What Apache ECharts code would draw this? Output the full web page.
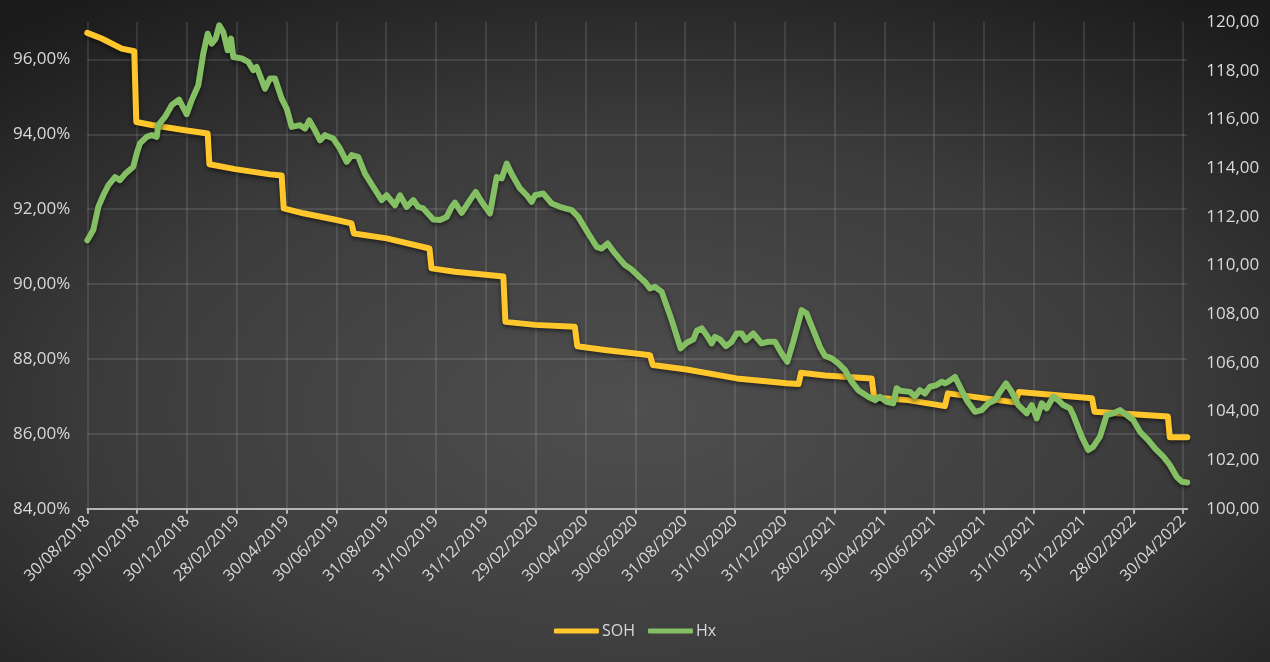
<!DOCTYPE html>
<html><head><meta charset="utf-8">
<script src="https://cdn.jsdelivr.net/npm/echarts@6/dist/echarts.min.js"></script>
<style>html,body{margin:0;padding:0;background:#2a2a2a;overflow:hidden}#c{width:1270px;height:662px}</style>
</head><body><div id="c"></div>
<script>
// x tick labels (every 61 days from 30/08/2018)
const tickLabels = ['30/08/2018','30/10/2018','30/12/2018','28/02/2019','30/04/2019','30/06/2019','31/08/2019','31/10/2019','31/12/2019','29/02/2020','30/04/2020','30/06/2020','31/08/2020','31/10/2020','31/12/2020','28/02/2021','30/04/2021','30/06/2021','31/08/2021','31/10/2021','31/12/2021','28/02/2022','30/04/2022'];
const tickStepDays = 61;
const lastDay = 1347;

// SOH (left axis, %) — x = days since 30/08/2018
const sohDays = [0,17.6,42.1,57.5,60,78.9,119.6,147.4,149.5,180.9,223.7,238,240.5,264.5,305.4,323.5,326.5,366.6,419,421.5,450.2,509.5,512,548.2,597,600,633.9,676.8,689,692.5,734,795.2,856.4,871,874,903.3,960.5,963.5,1005.3,1050.2,1053.8,1136,1140.9,1230.3,1233.4,1323.2,1325.6,1347];
const sohValues = [96.71,96.56,96.29,96.22,94.33,94.25,94.11,94.02,93.20,93.07,92.93,92.90,92.02,91.89,91.71,91.62,91.35,91.22,90.95,90.42,90.33,90.20,88.99,88.91,88.86,88.34,88.24,88.13,88.10,87.84,87.72,87.48,87.35,87.33,87.63,87.56,87.48,86.97,86.90,86.74,87.08,86.84,87.12,86.95,86.59,86.46,85.91,85.91];

// Hx (right axis)
const hxDays = [0,7.3,13.5,19.6,25.7,33.9,40,46.2,56.3,60.5,64.5,72.7,78.9,85,86.9,95.1,103.3,112.3,121.7,127.8,135.9,142,147.4,152.3,157.2,161.6,166.5,171.9,176,178.8,189.1,197.1,203.3,207.4,217.6,223.7,229.8,238,244.2,250.3,260.5,266.6,271.8,278.8,284.9,291.1,301.2,309.4,317.6,323.8,331.8,340,350.2,360.5,366.6,376.8,382.9,391.1,399.2,405.3,411.4,423.7,431.9,440.1,446.2,450.2,458.5,468.6,475.6,482.9,493.1,501.3,507.4,513.6,519.7,529.8,538,544.2,548.2,558.4,568.7,580.9,593.2,601.2,613.5,623.8,629.9,637.2,646.2,658.4,666.6,676.8,682.9,689,695.2,703.4,715.6,726.6,734,742.1,746.3,752.3,758.5,764.6,768.6,774.7,782.1,789.1,795.2,801.3,806.6,815.5,825.8,833.9,842.1,850.3,857.2,864.5,874.8,880.9,889,897.2,903.3,911.5,919.6,927.8,936,944.1,956.3,964.5,970.6,978.8,986.9,991.1,995.2,1007.4,1013.5,1019.6,1025.8,1031.9,1040.1,1046.2,1050.2,1054.3,1062.5,1068.6,1076.8,1087,1095.2,1103.3,1111.5,1117.6,1125,1132,1140.1,1150.4,1156.5,1162.6,1168.7,1174.8,1182.9,1189,1195.1,1203.3,1207.4,1217.7,1225.7,1231.9,1240.1,1248.3,1256.4,1264.6,1272.8,1280.9,1289.1,1299.2,1307.4,1317.6,1325.8,1334,1340.1,1347];
const hxValues = [111.03,111.45,112.40,112.88,113.29,113.63,113.50,113.75,114.05,114.60,115.01,115.28,115.35,115.28,115.76,116.10,116.58,116.81,116.21,116.78,117.40,118.70,119.52,119.11,119.32,119.86,119.59,118.84,119.32,118.56,118.50,118.36,118.02,118.15,117.26,117.68,117.68,116.85,116.44,115.69,115.76,115.62,115.96,115.55,115.14,115.35,115.21,114.80,114.25,114.53,114.46,113.77,113.22,112.68,112.88,112.47,112.88,112.40,112.68,112.40,112.34,111.88,111.86,111.99,112.40,112.58,112.16,112.68,113.02,112.61,112.13,113.63,113.57,114.18,113.75,113.16,112.88,112.61,112.88,112.95,112.54,112.38,112.27,111.99,111.31,110.76,110.69,110.90,110.49,110.01,109.83,109.50,109.32,109.05,109.12,108.91,107.75,106.59,106.82,106.96,107.31,107.41,107.13,106.79,107.06,106.96,106.68,106.86,107.20,107.20,106.93,107.20,106.79,106.86,106.86,106.38,106.04,106.86,108.16,108.02,107.34,106.65,106.28,106.18,105.97,105.70,105.22,104.87,104.60,104.46,104.60,104.39,104.33,104.95,104.85,104.80,104.62,104.87,104.73,105.01,105.08,105.22,105.15,105.22,105.42,105.01,104.46,103.98,104.05,104.33,104.46,104.80,105.15,104.80,104.26,103.92,104.26,103.71,104.33,104.12,104.60,104.46,104.26,104.12,103.85,102.96,102.41,102.55,102.96,103.85,103.92,104.05,103.85,103.64,103.16,102.82,102.48,102.14,101.79,101.31,101.11,101.08];

const zip = (xs, ys) => xs.map((x, i) => [x, ys[i]]);
const FONT = '"Open Sans", "Noto Sans", sans-serif';
const TXT = '#d9d9d9';
const comma = (v, d) => v.toFixed(d).replace('.', ',');

const chart = echarts.init(document.getElementById('c'), null, {renderer: 'canvas'});
chart.setOption({
  animation: false,
  backgroundColor: 'transparent',
  graphic: [{
    type: 'rect', z: -100, silent: true,
    shape: {x: 0, y: 0, width: 1270, height: 1270},
    scaleY: 662 / 1270,
    style: {fill: {type: 'radial', x: 0.5, y: 0.62, r: 0.75,
      colorStops: [{offset: 0, color: '#4f4f4f'}, {offset: 0.55, color: '#3c3c3c'}, {offset: 1, color: '#1c1c1c'}]}}
  }],
  grid: {left: 87.3, right: 82.7, top: 22, bottom: 153.3, containLabel: false},
  legend: {
    data: ['SOH', 'Hx'], bottom: 18, left: 'center', icon: 'roundRect',
    itemWidth: 45, itemHeight: 5, itemGap: 13,
    textStyle: {color: TXT, fontSize: 16, fontFamily: FONT, padding: [0, 0, 0, -2]}
  },
  xAxis: {
    type: 'value', min: 0, max: lastDay, interval: tickStepDays,
    axisLine: {show: true, lineStyle: {color: '#b5b5b5', width: 2}},
    axisTick: {show: true, length: 5, lineStyle: {color: '#b5b5b5', width: 2}},
    splitLine: {show: true, showMaxLine: false, lineStyle: {color: 'rgba(255,255,255,0.14)', width: 1.5}},
    axisLabel: {
      rotate: 45, margin: 10, color: TXT, fontSize: 16, fontFamily: FONT, showMaxLabel: false,
      formatter: v => { const i = Math.round(v / tickStepDays); return (Math.abs(v - i * tickStepDays) < 0.5 && tickLabels[i]) ? tickLabels[i] : ''; }
    }
  },
  yAxis: [{
    type: 'value', min: 84, max: 97, interval: 2, position: 'left',
    axisLine: {show: false}, axisTick: {show: false},
    splitLine: {show: true, showMaxLine: false, lineStyle: {color: 'rgba(255,255,255,0.14)', width: 1.5}},
    axisLabel: {color: TXT, fontSize: 17, fontFamily: FONT, margin: 17, showMaxLabel: false,
      formatter: v => comma(v, 2) + '%'}
  }, {
    type: 'value', min: 100, max: 120, interval: 2, position: 'right',
    axisLine: {show: false}, axisTick: {show: false}, splitLine: {show: false},
    axisLabel: {color: TXT, fontSize: 17, fontFamily: FONT, margin: 19,
      formatter: v => comma(v, 2)}
  }],
  series: [{
    name: 'SOH', type: 'line', yAxisIndex: 0, data: zip(sohDays, sohValues),
    showSymbol: false, symbol: 'none', color: '#FFC72C',
    lineStyle: {width: 6, color: '#FFC72C', join: 'round', cap: 'round',
      shadowColor: 'rgba(0,0,0,0.55)', shadowBlur: 4, shadowOffsetY: 2}
  }, {
    name: 'Hx', type: 'line', yAxisIndex: 1, data: zip(hxDays, hxValues),
    showSymbol: false, symbol: 'none', color: '#85BF63',
    lineStyle: {width: 6, color: '#85BF63', join: 'round', cap: 'round',
      shadowColor: 'rgba(0,0,0,0.55)', shadowBlur: 4, shadowOffsetY: 2}
  }]
});
</script>
</body></html>
